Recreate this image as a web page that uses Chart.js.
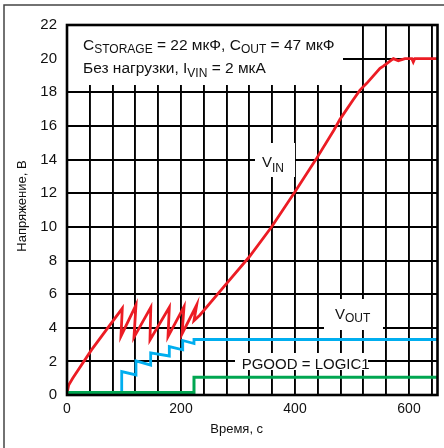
<!DOCTYPE html>
<html>
<head>
<meta charset="utf-8">
<script src="https://cdn.jsdelivr.net/npm/chart.js@4.4.1/dist/chart.umd.min.js"></script>
<style>
    html, body { margin: 0; padding: 0; background: #fff; }
</style>
</head>
<body>
<canvas id="grafico" width="444" height="448"></canvas>
<script>
// Datos (tiempo en s, tensión en V)
const tiempoVin = [0, 3, 10, 43, 97, 94.7, 121, 117.5, 147, 145.6, 179.5, 177.2, 205.3, 201.8, 227.5, 222.8,
    233.3, 280.2, 319.9, 359.1, 400, 436.8, 468.4, 478.9, 501.8, 514, 525.8, 549.1, 555, 572.5, 581.2, 593, 605, 607.5, 610, 650];
const tensionVin = [0.1, 0.6, 0.99, 2.68, 5.15, 3.5, 5.35, 3.43, 5.21, 3.27, 5.21, 3.47, 5.25, 3.63, 5.35, 4.42,
    4.76, 6.64, 8.22, 10.0, 12.09, 14.01, 15.76, 16.39, 17.54, 18.13, 18.53, 19.42, 19.56, 20, 19.88, 20, 20, 19.8, 20, 20];

const tiempoVout = [0, 96, 96, 121, 121, 146.8, 146.8, 179.5, 179.5, 203, 203, 222.8, 222.8, 650];
const tensionVout = [0.15, 0.15, 1.39, 1.19, 2.03, 1.78, 2.5, 2.32, 2.88, 2.69, 3.24, 3.06, 3.3, 3.3];

const tiempoPgood = [0, 222.8, 222.8, 650];
const nivelPgood = [0.15, 0.15, 1.05, 1.05];

const marcasX = [0, 200, 400, 600];

const FUENTE = '"Liberation Sans", Arial, sans-serif';
const COLOR_TEXTO = '#111';

function puntos(xs, ys) {
    return xs.map((x, i) => ({ x: x, y: ys[i] }));
}

// Dibuja un texto con partes en subíndice
function textoConSubindice(ctx, x, y, partes, tam, tamSub, bajada) {
    partes.forEach(p => {
        ctx.font = (p.sub ? tamSub : tam) + 'px ' + FUENTE;
        ctx.fillText(p.t, x, p.sub ? y + bajada : y);
        x += ctx.measureText(p.t).width;
    });
}

// Recuadros blancos detrás de las etiquetas (tapan la rejilla)
const recuadros = [
    [67, 25, 343, 85],
    [255, 143, 295, 177],
    [324, 299, 383, 330],
    [235, 353, 368, 370]
];

const decorado = {
    id: 'decorado',
    beforeDraw(chart) {
        const ctx = chart.ctx;
        ctx.save();
        ctx.fillStyle = '#fff';
        ctx.fillRect(0, 0, chart.width, chart.height);
        // marco exterior de la figura
        ctx.strokeStyle = '#444';
        ctx.lineWidth = 1.5;
        ctx.beginPath();
        ctx.moveTo(4, chart.height);
        ctx.lineTo(4, 5);
        ctx.lineTo(chart.width, 5);
        ctx.stroke();
        ctx.restore();
    },
    beforeDatasetsDraw(chart) {
        const ctx = chart.ctx;
        ctx.save();
        ctx.fillStyle = '#fff';
        recuadros.forEach(r => ctx.fillRect(r[0], r[1], r[2] - r[0], r[3] - r[1]));
        ctx.restore();
    },
    afterDatasetsDraw(chart) {
        const ctx = chart.ctx;
        const a = chart.chartArea;
        ctx.save();
        ctx.strokeStyle = '#000';
        ctx.lineWidth = 2.6;
        ctx.strokeRect(a.left, a.top, a.right - a.left, a.bottom - a.top);

        ctx.fillStyle = COLOR_TEXTO;
        ctx.textBaseline = 'alphabetic';
        ctx.textAlign = 'left';
        textoConSubindice(ctx, 83, 50, [
            { t: 'C' }, { t: 'STORAGE', sub: true }, { t: ' = 22 мкФ, C' }, { t: 'OUT', sub: true }, { t: ' = 47 мкФ' }
        ], 15.5, 12, 3.3);
        textoConSubindice(ctx, 83, 73.3, [
            { t: 'Без нагрузки, I' }, { t: 'VIN', sub: true }, { t: ' = 2 мкА' }
        ], 15.5, 12, 3.4);
        textoConSubindice(ctx, 262, 166.7, [{ t: 'V' }, { t: 'IN', sub: true }], 15, 12, 5);
        textoConSubindice(ctx, 335, 319.3, [{ t: 'V' }, { t: 'OUT', sub: true }], 15, 12, 3);
        textoConSubindice(ctx, 241.7, 369.3, [{ t: 'PGOOD = LOGIC1' }], 15, 12, 0);

        // títulos de los ejes
        ctx.font = '13px ' + FUENTE;
        ctx.textAlign = 'center';
        ctx.fillText('Время, с', 236.7, 433.3);
        ctx.translate(26, 206);
        ctx.rotate(-Math.PI / 2);
        ctx.fillText('Напряжение, В', 0, 0);
        ctx.restore();
    }
};

const ctx = document.getElementById('grafico').getContext('2d');
window.grafico = new Chart(ctx, {
    type: 'line',
    data: {
        datasets: [
            {
                label: 'PGOOD',
                data: puntos(tiempoPgood, nivelPgood),
                borderColor: '#00a651',
                borderWidth: 3,
                order: 0
            },
            {
                label: 'VOUT',
                data: puntos(tiempoVout, tensionVout),
                borderColor: '#00aeef',
                borderWidth: 2.8,
                order: 1
            },
            {
                label: 'VIN',
                data: puntos(tiempoVin, tensionVin),
                borderColor: '#ec1c24',
                borderWidth: 2.8,
                order: 2
            }
        ]
    },
    options: {
        responsive: false,
        animation: false,
        devicePixelRatio: 1,
        layout: { padding: { top: 25, right: 6.5, left: 0, bottom: 0 } },
        elements: {
            point: { radius: 0 },
            line: { tension: 0, fill: false, borderJoinStyle: 'miter' }
        },
        plugins: {
            legend: { display: false },
            tooltip: { enabled: false }
        },
        scales: {
            x: {
                type: 'linear',
                min: 0,
                max: 650,
                ticks: {
                    stepSize: 40,
                    includeBounds: false,
                    autoSkip: false,
                    maxRotation: 0,
                    padding: 6,
                    color: COLOR_TEXTO,
                    font: { family: FUENTE, size: 14 },
                    callback: v => marcasX.includes(v) ? String(v) : ''
                },
                grid: { color: '#000', lineWidth: 1.9, drawTicks: false },
                border: { display: false },
                afterFit: s => { s.height = 53; }
            },
            y: {
                min: 0,
                max: 22,
                ticks: {
                    stepSize: 2,
                    autoSkip: false,
                    padding: 10,
                    color: COLOR_TEXTO,
                    font: { family: FUENTE, size: 15 }
                },
                grid: { color: '#000', lineWidth: 1.9, drawTicks: false },
                border: { display: false },
                afterFit: s => { s.width = 67; }
            }
        }
    },
    plugins: [decorado]
});
</script>
</body>
</html>
